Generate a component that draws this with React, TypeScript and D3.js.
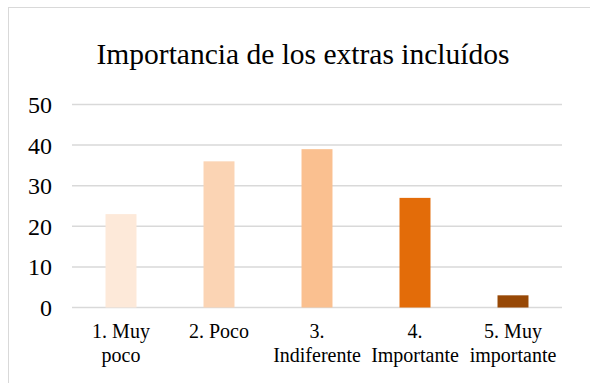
import React from "react";
import * as d3 from "d3";

const categories = ["1. Muy poco", "2. Poco", "3. Indiferente", "4. Importante", "5. Muy importante"];
const labelLines = [["1. Muy", "poco"], ["2. Poco"], ["3.", "Indiferente"], ["4.", "Importante"], ["5. Muy", "importante"]];
const values = [23, 36, 39, 27, 3];
const colors = ["#FDE9D9", "#FBD4B4", "#FAC090", "#E36C09", "#974806"];
const yTicks = [0, 10, 20, 30, 40, 50];
const title = "Importancia de los extras incluídos";

export default function App() {
  const W = 590, H = 383;
  const left = 72, right = 562, top = 104.5, bottom = 307.5;
  const x = d3.scaleBand<string>().domain(categories).range([left, right]).paddingInner(0.684).paddingOuter(0.342);
  const y = d3.scaleLinear().domain([0, 50]).range([bottom, top]);
  const font = "Liberation Serif, Tinos, Times New Roman, DejaVu Serif, serif";
  return (
    <svg width={W} height={H} style={{ position: "absolute", left: 0, top: 0, fontFamily: font }}>
      <rect x={0} y={0} width={W} height={H} fill="#fff" />
      <rect x={8.5} y={7.5} width={700} height={500} fill="#fff" stroke="#d9d9d9" strokeWidth={1} />
      <text x={303} y={64} textAnchor="middle" fontSize={29.5} fill="#000" style={{ fontFamily: font }}>{title}</text>
      {yTicks.map((t) => (
        <g key={t}>
          <line x1={left} x2={right} y1={y(t)} y2={y(t)} stroke="#d9d9d9" strokeWidth={1.5} />
          <text x={52} y={y(t)} dy="0.35em" textAnchor="end" fontSize={24} fill="#000" style={{ fontFamily: font }}>{t}</text>
        </g>
      ))}
      {categories.map((c, i) => (
        <rect key={c} x={x(c)} y={y(values[i])} width={x.bandwidth()} height={y(0) - y(values[i])} fill={colors[i]} />
      ))}
      {categories.map((c, i) => (
        <text key={"l" + c} x={(x(c) as number) + x.bandwidth() / 2} y={338} textAnchor="middle" fontSize={20} fill="#000" style={{ fontFamily: font }}>
          {labelLines[i].map((ln, j) => (
            <tspan key={j} x={(x(c) as number) + x.bandwidth() / 2} dy={j === 0 ? 0 : 24}>{ln}</tspan>
          ))}
        </text>
      ))}
    </svg>
  );
}
